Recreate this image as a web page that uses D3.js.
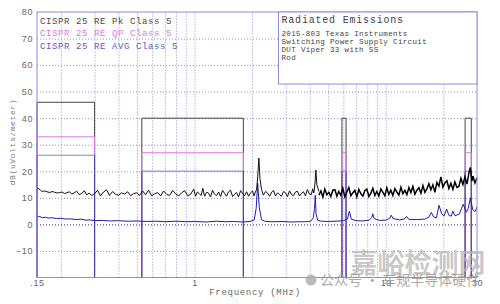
<!DOCTYPE html>
<html>
<head>
<meta charset="utf-8">
<script src="https://cdn.jsdelivr.net/npm/d3@7"></script>
<style>
  html, body { margin: 0; padding: 0; background: #fff; }
  svg { display: block; font-family: "Liberation Mono", "DejaVu Sans Mono", monospace; }
  .grid line { stroke: #8c8cdc; stroke-dasharray: 1,2; }
  .grid path { display: none; }
  .axis path, .axis line { display: none; }
  .axis text { fill: #666; font-size: 9px; letter-spacing: 0.6px; }
</style>
</head>
<body>
<svg id="chart" width="500" height="304"></svg>
<script>
// Limit bands (MHz) and CISPR 25 class 5 levels (dBuV/m)
const bandLo  = [0.15, 0.53, 5.9, 26];
const bandHi  = [0.3,  1.8,  6.2, 28];
const pkLimit = [46, 40, 40, 40];
const qpLimit = [33, 27, 27, 27];
const avLimit = [26, 20, 20, 20];

// Peak trace (below 4.4 MHz)
const pkFreq = [
  0.150,0.155,0.159,0.164,0.169,0.175,0.180,0.186,0.191,0.197,0.203,0.209,0.215,0.222,0.228,0.235,0.242,0.249,0.257,0.265,0.273,0.281,0.290,0.296,
  0.300,0.311,0.322,0.334,0.347,0.359,0.373,0.386,0.401,0.415,0.431,0.447,0.463,0.480,0.498,0.516,0.535,0.555,0.575,0.596,0.618,0.641,0.665,0.689,0.715,0.741,0.768,0.797,0.826,0.856,0.888,0.921,0.955,0.990,
  1.012,1.035,1.060,1.083,1.105,1.128,1.155,1.183,1.212,1.242,1.272,1.303,1.335,1.368,1.401,1.435,1.470,1.506,1.543,1.581,1.619,1.659,1.699,1.741,1.783,1.827,1.871,1.917,1.964,2.010,2.050,
  2.080,2.110,2.140,2.170,2.200,2.240,
  2.29,2.35,2.41,2.47,2.53,2.59,2.65,2.72,2.78,2.85,2.92,2.99,3.06,3.14,3.21,3.29,3.37,3.45,3.54,3.62,3.71,3.80,3.89,3.99,4.08,4.15,
  4.20,4.23,4.27,4.31,4.36,4.47
];
const pkVal = [
  13.8,13.2,12.4,12.6,12.3,12.0,12.4,12.1,11.8,12.0,12.2,11.6,11.9,12.3,11.4,11.9,12.5,11.2,11.6,12.7,11.1,11.8,10.9,11.3,
  11.5,12.9,10.7,12.2,13.0,10.9,12.4,11.3,11.0,11.9,11.4,12.3,10.8,11.6,11.9,10.9,12.6,11.2,12.9,10.8,11.5,12.0,10.7,12.6,11.3,10.9,12.8,11.5,10.7,11.9,12.7,10.8,11.4,13.3,10.6,12.2,
  11.5,10.9,13.6,10.6,12.1,11.8,10.3,12.9,11.4,10.8,12.2,10.5,12.8,11.7,10.6,12.3,12.9,10.5,11.4,12.0,10.4,12.7,11.6,10.8,12.3,10.6,11.9,12.6,10.7,12.2,
  13.0,18.0,25.0,17.0,13.2,11.0,
  12.4,11.8,10.6,12.2,12.8,10.7,11.9,11.2,10.6,12.4,11.9,10.5,12.6,11.3,10.8,12.2,12.5,10.7,11.6,12.3,10.8,13.1,11.4,11.2,13.4,11.8,
  13.0,16.0,20.5,15.0,12.4,11.0
];

// Peak trace above 4.4 MHz (dense noise band)
const pkHiFreq = [
  4.47,4.58,4.69,4.80,4.92,5.04,5.16,5.29,5.42,5.55,5.68,5.82,5.96,6.11,6.26,6.41,6.57,6.73,6.89,7.06,7.23,7.41,7.59,7.77,7.96,8.16,8.36,8.56,8.77,8.98,
  9.20,9.43,9.66,9.89,10.13,10.38,10.63,10.89,11.16,11.43,11.71,12.00,12.29,12.59,12.90,13.21,13.53,13.86,14.20,14.55,14.90,15.27,15.64,16.02,16.41,16.81,17.22,17.64,18.07,18.51,
  18.96,19.43,19.90,20.39,20.88,21.39,21.91,22.45,22.99,23.56,24.13,24.72,25.32,25.94,26.57,27.22,27.70,28.20,28.57,29.26,30.00
];
const pkHiVal = [
  11.0,12.6,10.3,13.3,11.2,12.1,10.5,12.9,13.1,10.6,12.4,11.0,13.6,10.4,12.2,13.9,10.8,11.9,12.8,10.4,13.2,11.5,10.7,12.7,13.3,10.5,11.8,13.6,10.9,12.4,
  10.7,13.4,12.1,10.8,13.8,11.3,12.9,10.9,13.5,12.2,11.0,14.0,11.6,12.8,11.2,13.9,12.0,14.3,11.4,12.9,13.8,11.7,14.6,12.1,13.4,15.3,13.0,14.9,12.1,15.8,
  14.4,17.9,14.0,15.6,16.4,13.5,15.5,13.2,16.0,13.9,14.3,17.4,15.0,17.9,15.2,19.3,21.5,16.3,18.2,15.6,17.6
];

// Average trace
const avFreq = [
  0.150,0.155,0.160,0.166,0.172,0.180,0.190,0.200,0.212,0.225,0.240,0.255,0.270,0.285,0.300,0.330,0.360,0.400,0.450,0.500,0.560,0.630,0.700,0.800,0.900,
  1.00,1.15,1.30,1.45,1.60,1.80,1.95,2.05,2.10,2.14,2.18,2.24,2.35,2.60,2.90,3.20,3.50,3.80,4.05,4.18,4.24,4.28,4.32,4.40,4.60,
  5.00,5.50,6.00,6.30,6.45,6.60,7.00,7.60,8.20,8.45,8.55,8.70,9.30,10.0,10.5,10.7,10.9,11.8,12.5,12.85,13.2,14.5,16.0,16.8,17.3,17.8,
  18.4,19.0,19.6,20.2,20.8,21.4,22.0,22.4,23.0,24.2,25.4,26.4,27.0,27.7,28.5,29.3,30.0
];
const avVal = [
  2.8,3.0,2.5,2.7,2.4,2.5,2.2,2.3,2.0,2.1,1.8,2.0,1.6,1.7,1.4,1.5,1.3,1.4,1.2,1.3,1.1,1.2,1.0,1.2,1.0,
  1.1,0.9,1.2,1.0,1.1,0.9,1.1,1.6,6.0,15.5,6.5,1.8,1.1,1.0,1.1,0.9,1.0,1.0,1.2,2.5,6.0,11.0,4.0,1.6,1.2,
  1.1,1.2,1.4,2.0,5.0,2.0,1.4,1.3,1.6,2.6,4.0,2.2,1.5,1.6,2.3,3.5,2.2,1.7,2.0,3.0,1.9,1.8,2.0,2.7,4.5,2.8,
  2.5,7.2,4.0,3.2,5.8,3.4,3.1,5.0,3.3,3.8,7.6,4.6,6.0,10.0,5.5,4.8,6.5
];

// Axis ticks / labels
const xGrid   = [0.2,0.3,0.4,0.5,0.6,0.7,0.8,0.9,1,2,3,4,5,6,7,8,9,10,20];
const xTicks  = [0.15, 1, 10, 30];
const xLabels = [".15", "1", "10", "30"];
const yGrid   = [-10,0,10,20,30,40,50,60,70];
const yTicks  = [-10,0,10,20,30,40,50,60,70,80];

const legendText   = ["CISPR 25 RE Pk Class 5", "CISPR 25 RE QP Class 5", "CISPR 25 RE AVG Class 5"];
const legendColors = ["#4a4a4a", "#dd77dd", "#5a5ac4"];
const titleMain  = "Radiated Emissions";
const titleLines = ["2015-803 Texas Instruments", "Switching Power Supply Circuit", "DUT Viper 33 with SS", "Rod"];

const svg = d3.select("#chart");
const W = 500, H = 304;
const margin = { top: 12, right: 23, bottom: 26.5, left: 37 };
const innerW = W - margin.left - margin.right;
const innerH = H - margin.top - margin.bottom;

const g = svg.append("g").attr("transform", `translate(${margin.left},${margin.top})`);

const x = d3.scaleLog().domain([0.15, 30]).range([0, innerW]);
const y = d3.scaleLinear().domain([-20, 80]).range([innerH, 0]);

// Gridlines
g.append("g")
  .attr("class", "grid")
  .attr("transform", `translate(0,${innerH})`)
  .call(d3.axisBottom(x).tickValues(xGrid).tickSize(-innerH).tickFormat(""));

g.append("g")
  .attr("class", "grid")
  .call(d3.axisLeft(y).tickValues(yGrid).tickSize(-innerW).tickFormat(""))
  .selectAll("line")
  .filter(d => d === 0)
  .style("stroke", "#2a2a90");

// Axis labels
g.append("g")
  .attr("class", "axis")
  .attr("transform", `translate(0,${innerH})`)
  .call(d3.axisBottom(x).tickValues(xTicks).tickSize(0).tickPadding(2)
        .tickFormat((d, i) => xLabels[i]));

g.append("g")
  .attr("class", "axis")
  .call(d3.axisLeft(y).tickValues(yTicks).tickSize(0).tickPadding(4));

g.append("text")
  .attr("x", innerW / 2 - 2)
  .attr("y", innerH + 17.5)
  .attr("text-anchor", "middle")
  .attr("fill", "#666")
  .style("font-size", "9px")
  .style("letter-spacing", "0.7px")
  .text("Frequency (MHz)");

g.append("text")
  .attr("transform", `translate(${-22},${y(31)}) rotate(-90)`)
  .attr("text-anchor", "middle")
  .attr("fill", "#777")
  .style("font-size", "8px")
  .style("letter-spacing", "0.6px")
  .text("dB(uVolts/meter)");

// Limit lines: each band drops to the floor on both sides
const line = d3.line().x(d => x(d[0])).y(d => y(d[1]));
function limitPath(levels, color){
  g.append("g").selectAll("path")
    .data(bandLo.map((lo, i) => [[lo, -20], [lo, levels[i]], [bandHi[i], levels[i]], [bandHi[i], -20]]))
    .join("path")
    .attr("d", line)
    .attr("fill", "none")
    .attr("stroke", color)
    .attr("stroke-width", 1);
}
limitPath(pkLimit, "#444");
limitPath(qpLimit, "#e27ae2");
limitPath(avLimit, "#4040a8");

// the AVG level itself reads much lighter than its drop lines
g.append("g").selectAll("line")
  .data(bandLo)
  .join("line")
  .attr("x1", d => x(d) + 0.5)
  .attr("x2", (d, i) => x(bandHi[i]) - 0.5)
  .attr("y1", (d, i) => y(avLimit[i]))
  .attr("y2", (d, i) => y(avLimit[i]))
  .attr("stroke", "#b4b4dc");

// Traces
g.append("path")
  .datum(avFreq.map((f, i) => [f, avVal[i]]))
  .attr("d", line)
  .attr("fill", "none")
  .attr("stroke", "#1e1ea8")
  .attr("stroke-width", 1);

g.append("path")
  .datum(pkFreq.map((f, i) => [f, pkVal[i]]))
  .attr("d", line)
  .attr("fill", "none")
  .attr("stroke", "#111")
  .attr("stroke-width", 1);

g.append("path")
  .datum(pkHiFreq.map((f, i) => [f, pkHiVal[i]]))
  .attr("d", line)
  .attr("fill", "none")
  .attr("stroke", "#000")
  .attr("stroke-width", 1.5);

// Plot frame
g.append("rect")
  .attr("width", innerW)
  .attr("height", innerH)
  .attr("fill", "none")
  .attr("stroke", "#8c8cdc");

// Legend
g.append("g").selectAll("text")
  .data(legendText)
  .join("text")
  .attr("x", 3)
  .attr("y", (d, i) => 12 + i * 12.4)
  .attr("fill", (d, i) => legendColors[i])
  .style("font-size", "9px")
  .style("letter-spacing", "0.6px")
  .text(d => d);

// Title box
const tb = g.append("g").attr("transform", `translate(${241.5},0)`);
tb.append("rect")
  .attr("width", innerW - 241.5)
  .attr("height", 72)
  .attr("fill", "#fff")
  .attr("stroke", "#8c8cdc");
tb.append("text")
  .attr("x", 3)
  .attr("y", 11.3)
  .attr("fill", "#444")
  .style("font-size", "10px")
  .style("letter-spacing", "0.8px")
  .text(titleMain);
tb.selectAll(".sub")
  .data(titleLines)
  .join("text")
  .attr("class", "sub")
  .attr("x", 3)
  .attr("y", (d, i) => 23.7 + i * 8.2)
  .attr("fill", "#444")
  .style("font-size", "7.5px")
  .style("letter-spacing", "0.35px")
  .text(d => d);

// Watermark
svg.append("text")
  .attr("x", 418).attr("y", 273)
  .attr("text-anchor", "middle")
  .attr("fill", "#b8b8b8").attr("fill-opacity", 0.75)
  .style("font-family", "Noto Sans CJK SC").style("font-weight", "bold").style("font-size", "27px")
  .text("嘉峪检测网");
svg.append("circle").attr("cx", 311).attr("cy", 280).attr("r", 5.5).attr("fill", "#aaa").attr("fill-opacity", 0.8);
svg.append("text")
  .attr("x", 320).attr("y", 285)
  .attr("fill", "#999").attr("fill-opacity", 0.85)
  .style("font-family", "Noto Sans CJK SC").style("font-size", "14px")
  .text("公众号 · 车规半导体硬件");
</script>
</body>
</html>
